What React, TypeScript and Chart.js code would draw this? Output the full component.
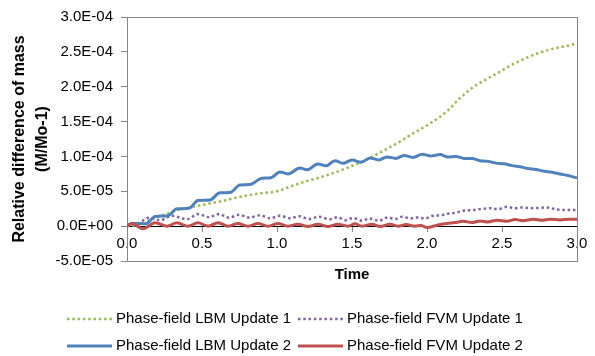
import React, { useEffect, useRef } from "react";
import { Chart, registerables } from "chart.js";

Chart.register(...registerables);

const FONT = "'Liberation Sans', Arial, Helvetica, sans-serif";

// ---- data ----
const seriesNames = [
  "Phase-field LBM Update 1",
  "Phase-field FVM Update 1",
  "Phase-field LBM Update 2",
  "Phase-field FVM Update 2",
];

const lbm1Time = [0, 0.087, 0.153, 0.2, 0.267, 0.333, 0.4, 0.487, 0.573, 0.653, 0.733, 0.82, 0.907, 1.007, 1.067, 1.173, 1.287, 1.373, 1.467, 1.573, 1.687, 1.8, 1.907, 2.02, 2.133, 2.22, 2.307, 2.4, 2.487, 2.573, 2.667, 2.753, 2.84, 2.933, 3.0];
const lbm1Value = [0, 0.21e-5, 0.78e-5, 1.28e-5, 1.77e-5, 2.27e-5, 2.62e-5, 2.98e-5, 3.33e-5, 3.69e-5, 4.11e-5, 4.47e-5, 4.75e-5, 5.04e-5, 5.5e-5, 6.3e-5, 7.0e-5, 7.6e-5, 8.35e-5, 9.3e-5, 10.55e-5, 11.89e-5, 13.3e-5, 14.72e-5, 16.48e-5, 18.37e-5, 19.93e-5, 21.11e-5, 22.16e-5, 23.23e-5, 24.18e-5, 24.89e-5, 25.46e-5, 25.84e-5, 26.21e-5];

const fvm1Time = [0, 0.067, 0.153, 0.22, 0.3, 0.4, 0.473, 0.547, 0.613, 0.68, 0.747, 0.813, 0.887, 0.953, 1.02, 1.087, 1.147, 1.213, 1.28, 1.353, 1.407, 1.453, 1.507, 1.567, 1.613, 1.68, 1.74, 1.787, 1.833, 1.887, 1.94, 1.987, 2.04, 2.093, 2.133, 2.187, 2.24, 2.3, 2.353, 2.42, 2.473, 2.533, 2.587, 2.633, 2.687, 2.747, 2.8, 2.853, 2.907, 3.0];
const fvm1Value = [0, 3.5e-6, 12.1e-6, 8.5e-6, 14.9e-6, 9.9e-6, 17.3e-6, 12.8e-6, 17.3e-6, 12.1e-6, 16.3e-6, 12.3e-6, 15.6e-6, 11.3e-6, 14.9e-6, 11.3e-6, 14.2e-6, 10.2e-6, 13.5e-6, 9.9e-6, 12.8e-6, 8.5e-6, 11.6e-6, 7.8e-6, 11.1e-6, 7.8e-6, 12.5e-6, 10.2e-6, 13.5e-6, 11.1e-6, 12.5e-6, 11.1e-6, 14.9e-6, 15.6e-6, 17.7e-6, 19.1e-6, 22.0e-6, 23.0e-6, 24.4e-6, 25.8e-6, 24.4e-6, 27.7e-6, 25.8e-6, 26.9e-6, 25.8e-6, 26.2e-6, 26.7e-6, 24.4e-6, 23.0e-6, 23.0e-6];

const lbm2Time = [0, 0.04, 0.127, 0.187, 0.273, 0.333, 0.413, 0.473, 0.553, 0.62, 0.687, 0.753, 0.82, 0.9, 0.96, 1.02, 1.073, 1.153, 1.2, 1.273, 1.327, 1.387, 1.44, 1.5, 1.56, 1.62, 1.68, 1.733, 1.793, 1.847, 1.907, 1.967, 2.027, 2.087, 2.14, 2.193, 2.247, 2.3, 2.353, 2.407, 2.46, 2.513, 2.567, 2.62, 2.673, 2.727, 2.78, 2.833, 2.887, 2.94, 3.0];
const lbm2Value = [0.14e-5, 0.38e-5, 0.35e-5, 1.39e-5, 1.49e-5, 2.48e-5, 2.55e-5, 3.69e-5, 3.76e-5, 4.79e-5, 4.82e-5, 5.89e-5, 5.96e-5, 6.88e-5, 6.95e-5, 7.77e-5, 7.49e-5, 8.34e-5, 8.08e-5, 8.91e-5, 8.65e-5, 9.39e-5, 9.01e-5, 9.5e-5, 9.15e-5, 9.79e-5, 9.5e-5, 9.93e-5, 9.72e-5, 10.14e-5, 9.86e-5, 10.31e-5, 10.07e-5, 10.26e-5, 9.93e-5, 10.0e-5, 9.72e-5, 9.69e-5, 9.39e-5, 9.29e-5, 9.04e-5, 8.94e-5, 8.68e-5, 8.51e-5, 8.27e-5, 8.13e-5, 7.87e-5, 7.73e-5, 7.48e-5, 7.26e-5, 6.92e-5];

const fvm2Time = [0, 0.033, 0.107, 0.187, 0.267, 0.333, 0.407, 0.473, 0.54, 0.607, 0.673, 0.74, 0.807, 0.873, 0.94, 1.007, 1.073, 1.14, 1.207, 1.273, 1.34, 1.407, 1.473, 1.52, 1.567, 1.633, 1.687, 1.753, 1.807, 1.86, 1.92, 1.96, 2.0, 2.067, 2.133, 2.187, 2.24, 2.3, 2.353, 2.407, 2.467, 2.533, 2.587, 2.64, 2.707, 2.767, 2.82, 2.887, 2.953, 3.0];
const fvm2Value = [0, 3.7e-6, -3.8e-6, 4.7e-6, 0, 4.7e-6, 0, 4.7e-6, 0, 5.0e-6, 0, 3.7e-6, 0, 3.7e-6, 0, 3.7e-6, 0, 2.8e-6, -0.6e-6, 2.8e-6, -0.6e-6, 2.8e-6, 0, 3.3e-6, 0, 2.8e-6, -0.6e-6, 2.8e-6, 0, 2.3e-6, 0, 1.1e-6, -2.0e-6, 1.4e-6, 3.7e-6, 5.1e-6, 7.1e-6, 5.1e-6, 7.5e-6, 6.1e-6, 8.5e-6, 7.1e-6, 9.4e-6, 7.9e-6, 9.9e-6, 8.5e-6, 9.9e-6, 8.9e-6, 9.9e-6, 9.9e-6];

const xMin = 0;
const xMax = 3;
const xTickStep = 0.5;
const yMin = -5e-5;
const yMax = 3e-4;
const yStep = 5e-5;

const colors = ["#9BBB59", "#8064A2", "#4F81BD", "#C0504D"];

// ---- helpers ----
function toPoints(t: number[], v: number[]) {
  return t.map((x, i) => ({ x, y: v[i] }));
}

function sciLabel(v: number): string {
  if (Math.abs(v) < 1e-12) return "0.0E+00";
  const [m, e] = v.toExponential(1).split("e");
  const n = parseInt(e, 10);
  return `${m}E${n < 0 ? "-" : "+"}${String(Math.abs(n)).padStart(2, "0")}`;
}

const boxPlugin = {
  id: "plotBox",
  beforeDatasetsDraw(chart: any) {
    const { ctx, chartArea } = chart;
    ctx.save();
    ctx.strokeStyle = "#868686";
    ctx.lineWidth = 1;
    ctx.strokeRect(
      Math.round(chartArea.left) + 0.5,
      Math.round(chartArea.top) + 0.5,
      Math.round(chartArea.right - chartArea.left),
      Math.round(chartArea.bottom - chartArea.top)
    );
    ctx.restore();
  },
};

const legendPlugin = {
  id: "customLegend",
  afterDraw(chart: any) {
    const { ctx } = chart;
    const cols = [67, 298];
    const rows = [319, 346];
    ctx.save();
    chart.data.datasets.forEach((ds: any, i: number) => {
      const x = cols[i % 2];
      const y = rows[Math.floor(i / 2)];
      ctx.strokeStyle = ds.borderColor;
      ctx.lineWidth = ds.borderWidth;
      ctx.setLineDash(ds.borderDash || []);
      ctx.lineCap = "butt";
      ctx.beginPath();
      ctx.moveTo(x, y);
      ctx.lineTo(x + 45, y);
      ctx.stroke();
      ctx.setLineDash([]);
      ctx.fillStyle = "#000";
      ctx.font = `15px ${FONT}`;
      ctx.textBaseline = "middle";
      ctx.textAlign = "left";
      ctx.fillText(ds.label, x + 49, y);
    });
    ctx.restore();
  },
};

export default function App() {
  const ref = useRef<HTMLCanvasElement | null>(null);

  useEffect(() => {
    if (!ref.current) return;
    Chart.defaults.font.family = FONT;
    Chart.defaults.color = "#000";

    const series = [
      { t: lbm1Time, v: lbm1Value, dash: [2.5, 2.8], w: 2.5, order: 4 },
      { t: fvm1Time, v: fvm1Value, dash: [2.5, 2.8], w: 2.5, order: 3 },
      { t: lbm2Time, v: lbm2Value, dash: [], w: 3, order: 2 },
      { t: fvm2Time, v: fvm2Value, dash: [], w: 3, order: 1 },
    ];

    const chart = new Chart(ref.current, {
      type: "line",
      data: {
        datasets: series.map((s, i) => ({
          label: seriesNames[i],
          data: toPoints(s.t, s.v),
          borderColor: colors[i],
          backgroundColor: colors[i],
          borderWidth: s.w,
          borderDash: s.dash,
          pointRadius: 0,
          cubicInterpolationMode: "monotone",
          fill: false,
          order: s.order,
          xAxisID: "x",
          yAxisID: "y",
        })),
      },
      options: {
        responsive: false,
        animation: false,
        events: [],
        layout: { padding: { left: 0, top: 14, right: 18, bottom: 72 } },
        plugins: {
          legend: { display: false },
          tooltip: { enabled: false },
        },
        scales: {
          x: {
            type: "linear",
            position: "bottom",
            min: xMin,
            max: xMax,
            ticks: { display: false, stepSize: xTickStep },
            grid: { display: false, drawTicks: false },
            border: { display: false },
            title: {
              display: true,
              text: "Time",
              font: { size: 15, weight: "bold", lineHeight: 1.2 },
              padding: { top: 5, bottom: 0 },
              color: "#000",
            },
          },
          x2: {
            type: "linear",
            position: { y: 0 } as any,
            min: xMin,
            max: xMax,
            ticks: {
              stepSize: xTickStep,
              font: { size: 15 },
              padding: 4,
              color: "#000",
              maxRotation: 0,
              callback: (v: any) => Number(v).toFixed(1),
            },
            grid: {
              drawOnChartArea: false,
              drawTicks: true,
              tickLength: 5,
              color: "#868686",
            },
            border: { display: true, color: "#000", width: 1 },
          },
          y: {
            type: "linear",
            position: "left",
            min: yMin,
            max: yMax,
            ticks: {
              stepSize: yStep,
              font: { size: 15 },
              padding: 8,
              color: "#000",
              callback: (v: any) => sciLabel(Number(v)),
            },
            grid: {
              drawOnChartArea: false,
              drawTicks: true,
              tickLength: 6,
              color: "#868686",
            },
            border: { display: false },
            title: {
              display: true,
              text: ["Relative difference of mass", "(M/Mo-1)"],
              font: { size: 16, weight: "bold", lineHeight: 1.45 },
              padding: { top: 8, bottom: 0 },
              color: "#000",
            },
            afterFit: (scale: any) => {
              scale.width = 127;
            },
          },
        },
      },
      plugins: [boxPlugin, legendPlugin],
    } as any);

    return () => chart.destroy();
  }, []);

  return (
    <div style={{ position: "absolute", left: 0, top: 0, width: 595, height: 356, background: "#fff" }}>
      <canvas ref={ref} width={595} height={356} style={{ display: "block" }} />
    </div>
  );
}
